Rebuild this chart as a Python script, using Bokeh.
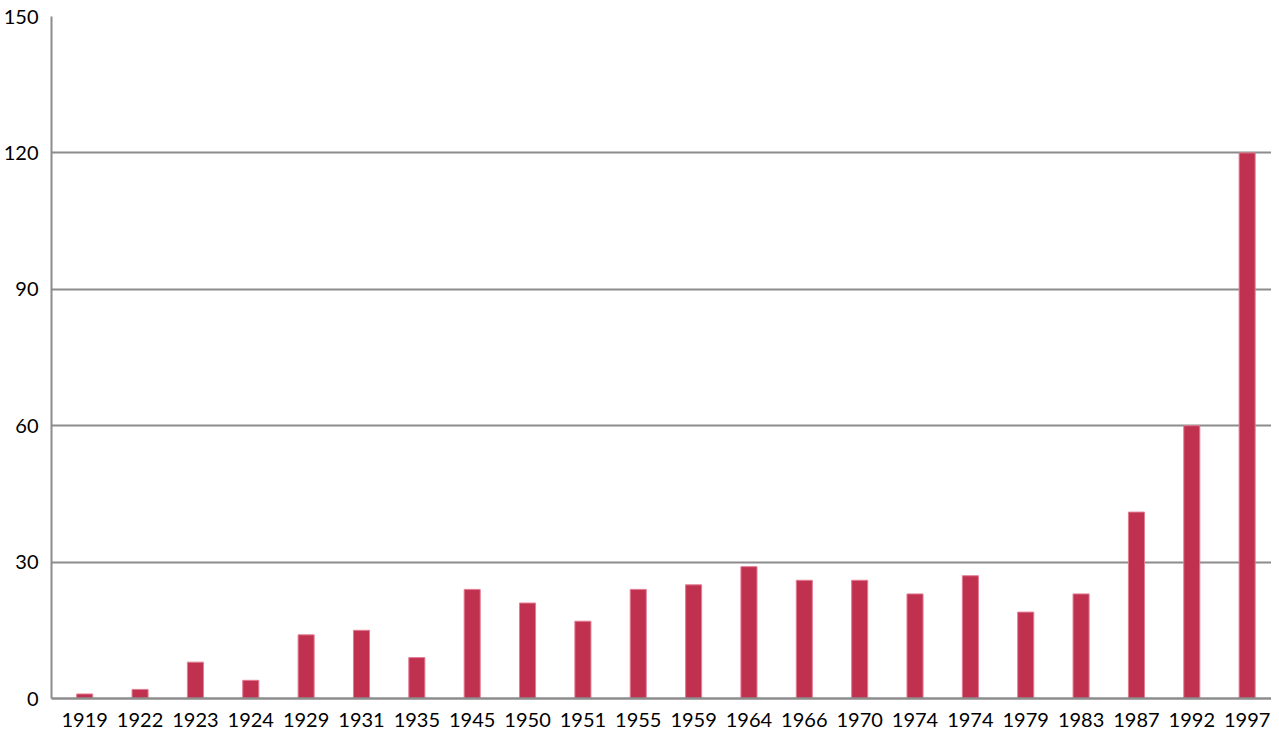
from bokeh.plotting import figure
from bokeh.models import FixedTicker, Range1d, ColumnDataSource
from bokeh.embed import file_html
from bokeh.resources import INLINE

years = ["1919", "1922", "1923", "1924", "1929", "1931", "1935", "1945", "1950", "1951",
         "1955", "1959", "1964", "1966", "1970", "1974", "1974", "1979", "1983", "1987",
         "1992", "1997"]
values = [1, 2, 8, 4, 14, 15, 9, 24, 21, 17, 24, 25, 29, 26, 26, 23, 27, 19, 23, 41, 60, 120]
y_ticks = [0, 30, 60, 90, 120, 150]

idx = list(range(len(years)))
src = ColumnDataSource(dict(x=idx, top=values))

p = figure(width=1271, height=729, output_backend="svg", toolbar_location=None,
           x_range=Range1d(-0.6, len(years) - 0.56), y_range=Range1d(0, 150),
           min_border_left=42, min_border_right=0, min_border_top=16, min_border_bottom=20)
p.outline_line_color = None
p.background_fill_color = "white"
p.border_fill_color = "white"

p.vbar(x="x", top="top", width=0.29, source=src, fill_color="#C0304F",
       line_color="#E37C93", line_width=1)

FONT = "Lato"
p.xaxis.ticker = FixedTicker(ticks=idx)
p.xaxis.major_label_overrides = {i: y for i, y in enumerate(years)}
p.xaxis.major_label_text_font = FONT
p.xaxis.major_label_text_font_size = "20px"
p.xaxis.major_label_text_color = "black"
p.xaxis.major_tick_line_color = None
p.xaxis.minor_tick_line_color = None
p.xaxis.axis_line_color = "#8C8C8C"
p.xaxis.axis_line_width = 2.5
p.xaxis.major_label_standoff = 8

p.yaxis.ticker = FixedTicker(ticks=y_ticks)
p.yaxis.major_label_text_font = FONT
p.yaxis.major_label_text_font_size = "20px"
p.yaxis.major_label_text_color = "black"
p.yaxis.major_tick_line_color = None
p.yaxis.minor_tick_line_color = None
p.yaxis.axis_line_color = "#8C8C8C"
p.yaxis.axis_line_width = 2
p.yaxis.major_label_standoff = 7

p.xgrid.grid_line_color = None
p.ygrid.ticker = FixedTicker(ticks=y_ticks)
p.ygrid.grid_line_color = "#8C8C8C"
p.ygrid.grid_line_width = 2

open("out.html", "w").write(file_html(p, INLINE))
